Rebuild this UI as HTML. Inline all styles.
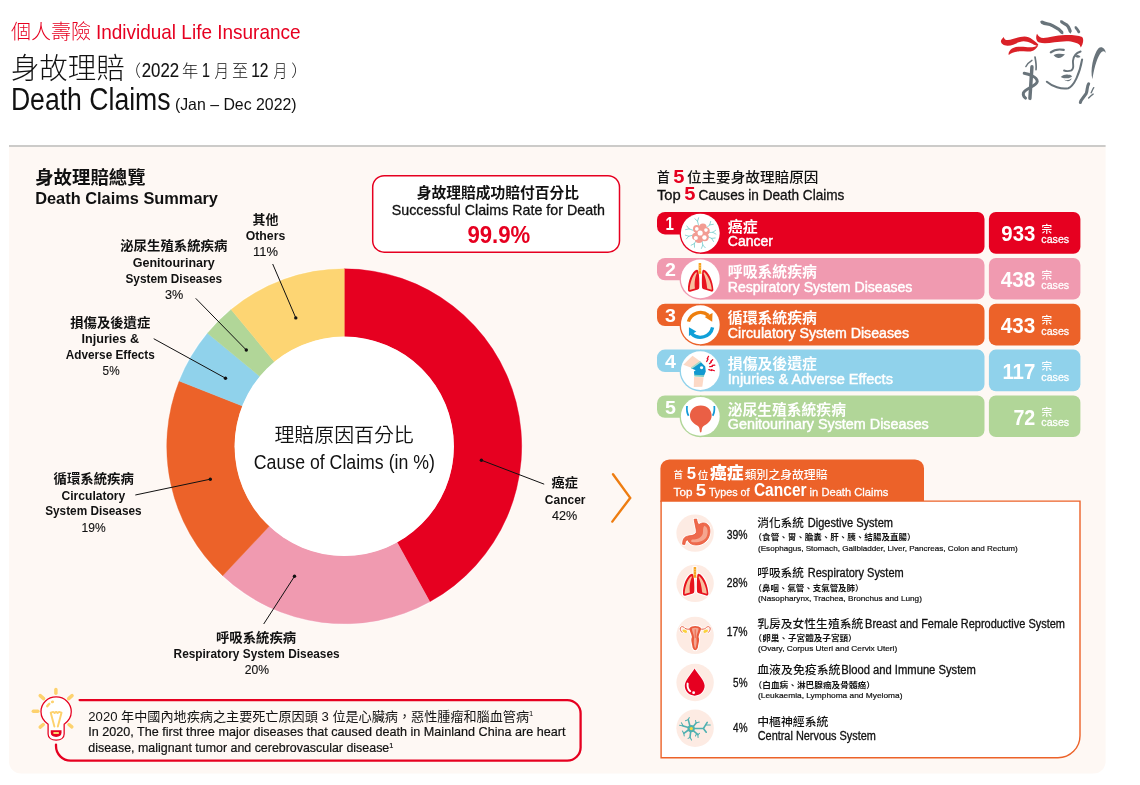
<!DOCTYPE html>
<html lang="zh-Hant">
<head>
<meta charset="utf-8">
<title>身故理賠 Death Claims</title>
<style>
html,body{margin:0;padding:0;background:#fff;}
body{width:1140px;height:785px;overflow:hidden;position:relative;font-family:"Liberation Sans","Noto Sans CJK TC",sans-serif;}
svg{position:absolute;left:0;top:0;display:block;}
svg text{font-family:"Liberation Sans","Noto Sans CJK TC",sans-serif;fill:#111;}
.b{font-weight:700;}
.l{font-weight:300;}
.md{font-weight:500;}
.m{text-anchor:middle;}
.e{text-anchor:end;}
.w{fill:#fff;}
.sb{stroke:#fff;stroke-width:.45px;}
.sb2{stroke:#fff;stroke-width:.28px;}
.sk{stroke:#111;stroke-width:.3px;}
.sk2{stroke:#111;stroke-width:.2px;}
.sk1{stroke:#111;stroke-width:.12px;}
.ld{stroke:#111;stroke-width:1;fill:none;}
</style>
</head>
<body>
<svg width="1140" height="785" viewBox="0 0 1140 785">
<g id="header">
<text x="10.9" y="38.8" textLength="80.2" lengthAdjust="spacingAndGlyphs" class="l" style="font-size:20.4px;fill:#e60020">個人壽險</text>
<text x="95.9" y="38.7" textLength="204.7" lengthAdjust="spacingAndGlyphs" style="font-size:21px;fill:#e60020">Individual Life Insurance</text>
<text x="10.9" y="79.0" textLength="113.7" lengthAdjust="spacingAndGlyphs" class="l" style="font-size:29px;">身故理賠</text>
<text x="124.5" y="77" class="l" style="font-size:16.5px">（</text>
<text x="141.7" y="76.8" textLength="37.4" lengthAdjust="spacingAndGlyphs" class="sk1" style="font-size:20px;">2022</text>
<text x="181.9" y="77.2" textLength="16.2" lengthAdjust="spacingAndGlyphs" class="l" style="font-size:16.6px;">年</text>
<text x="202.0" y="76.8" textLength="7.9" lengthAdjust="spacingAndGlyphs" class="sk1" style="font-size:20px;">1</text>
<text x="214.4" y="77.2" textLength="14.5" lengthAdjust="spacingAndGlyphs" class="l" style="font-size:16.6px;">月</text>
<text x="231.9" y="77.2" textLength="16.2" lengthAdjust="spacingAndGlyphs" class="l" style="font-size:16.6px;">至</text>
<text x="251.2" y="76.8" textLength="17.3" lengthAdjust="spacingAndGlyphs" class="sk1" style="font-size:20px;">12</text>
<text x="273.6" y="77.2" textLength="13.7" lengthAdjust="spacingAndGlyphs" class="l" style="font-size:16.6px;">月</text>
<text x="291.2" y="77" class="l" style="font-size:16.5px">）</text>
<text x="10.9" y="110.2" textLength="159.7" lengthAdjust="spacingAndGlyphs" style="font-size:31px;">Death Claims</text>
<text x="174.9" y="109.6" textLength="121.7" lengthAdjust="spacingAndGlyphs" style="font-size:16.5px;">(Jan – Dec 2022)</text>
</g>
<g id="logo" transform="translate(995 10) scale(0.12739)"><path fill="#da2128" d="M330,186 C320,205 318,244 348,256 C400,270 470,250 560,246 C610,246 648,260 666,276 L674,294 L686,270 C696,245 694,220 684,212 C650,200 600,195 550,197 C480,200 420,220 380,220 C355,220 340,206 330,186Z"/><path fill="#da2128" d="M68,211 C72,228 82,237 100,236 C140,234 180,208 232,208 C274,208 312,243 340,270 L330,283 C300,272 262,246 225,246 C185,246 150,278 100,280 C68,281 48,264 46,245 C48,231 60,220 68,211Z"/><path fill="#da2128" d="M340,272 C320,293 280,296 240,291 C200,285 148,286 122,312 C108,328 104,344 108,354 C125,338 150,327 185,325 C225,323 272,334 302,317 C322,304 337,287 340,272Z"/><g fill="none" stroke="#69747b" stroke-linecap="round" stroke-linejoin="round"><path stroke-width="26" d="M370,96 C400,115 420,102 450,122 C475,142 495,137 524,174"/><path stroke-width="10" d="M362,90 C372,100 380,104 395,108 M505,150 C515,160 525,172 532,186"/><path stroke-width="25" d="M524,94 C542,112 560,104 575,132 C583,148 588,158 590,166"/><path stroke-width="9" d="M516,86 C522,94 530,100 538,104 M588,160 C591,168 592,174 593,180"/><path stroke-width="22" d="M636,140 C645,150 653,160 658,172"/><path stroke-width="9" d="M630,132 C634,138 638,142 642,146"/><path stroke-width="17" d="M438,332 C462,313 505,307 540,313"/><path stroke-width="15" d="M672,326 C640,336 615,365 612,400 C610,430 625,458 600,474 C580,482 556,480 542,475"/><path stroke-width="16" d="M407,563 C450,600 520,625 575,614 C620,598 665,500 684,388"/><path stroke-width="27" d="M290,446 L274,694"/><path stroke-width="23" d="M229,497 C262,502 328,522 332,560 C328,598 242,610 223,650 C217,676 233,686 240,692"/><path stroke-width="13" d="M314,369 C320,400 326,440 322,468"/><path stroke-width="11" d="M242,444 C255,422 275,404 290,395"/><path stroke-width="24" d="M735,580 C720,602 727,630 716,655 C702,680 674,700 670,726"/><path stroke-width="11" d="M775,610 C765,625 760,640 755,650"/><path stroke-width="11" d="M770,660 C755,670 745,680 735,690"/></g><g fill="#69747b"><path d="M460,355 C480,340 520,340 549,347 C534,368 512,380 495,377 C480,374 468,364 460,355Z"/><path d="M626,361 C645,346 663,352 671,368 C655,376 640,378 626,361Z"/><path d="M516,525 C540,507 560,502 575,509 C585,505 597,509 606,520 C590,533 575,538 560,535 C545,538 530,533 516,525Z"/><path d="M541,546 C560,556 585,551 602,536 C596,558 570,570 541,546Z"/><path d="M870,338 C866,298 833,280 811,302 C774,348 744,470 765,544 C774,480 794,392 824,346 C838,320 856,314 870,338Z"/></g></g>
<rect x="9" y="145" width="1096.6" height="2.1" fill="#cccbc9"/>
<path d="M9 147H1105.6V761.5a12 12 0 0 1-12 12H21a12 12 0 0 1-12-12Z" fill="#fef8f4"/>
<g id="summary">
<text x="35.2" y="183.6" textLength="110.4" lengthAdjust="spacingAndGlyphs" class="b" style="font-size:17.8px;">身故理賠總覽</text>
<text x="35.2" y="204.2" textLength="182.8" lengthAdjust="spacingAndGlyphs" class="b" style="font-size:17.3px;">Death Claims Summary</text>
</g>
<g id="donut">
<circle cx="344.25" cy="446.3" r="178.4" fill="#fff"/>
<path fill="#e60020" stroke="#e60020" stroke-width=".4" d="M344.2 268.8A177.5 177.5 0 0 1 429.8 601.8L397.0 542.2A109.4 109.4 0 0 0 344.2 336.9Z"/>
<path fill="#f09ab0" stroke="#f09ab0" stroke-width=".4" d="M429.8 601.8A177.5 177.5 0 0 1 222.7 575.7L269.4 526.0A109.4 109.4 0 0 0 397.0 542.2Z"/>
<path fill="#ec6229" stroke="#ec6229" stroke-width=".4" d="M222.7 575.7A177.5 177.5 0 0 1 179.2 381.0L242.5 406.0A109.4 109.4 0 0 0 269.4 526.0Z"/>
<path fill="#90d2eb" stroke="#90d2eb" stroke-width=".4" d="M179.2 381.0A177.5 177.5 0 0 1 207.5 333.2L260.0 376.6A109.4 109.4 0 0 0 242.5 406.0Z"/>
<path fill="#b1d698" stroke="#b1d698" stroke-width=".4" d="M207.5 333.2A177.5 177.5 0 0 1 231.1 309.5L274.5 362.0A109.4 109.4 0 0 0 260.0 376.6Z"/>
<path fill="#fdd573" stroke="#fdd573" stroke-width=".4" d="M231.1 309.5A177.5 177.5 0 0 1 344.3 268.8L344.3 336.9A109.4 109.4 0 0 0 274.5 362.0Z"/>
<circle cx="344.25" cy="446.3" r="109.7" fill="#fff"/>
<text x="274.4" y="442.0" textLength="139.4" lengthAdjust="spacingAndGlyphs" style="font-size:19px;font-weight:350">理賠原因百分比</text>
<text x="253.8" y="469.0" textLength="181.1" lengthAdjust="spacingAndGlyphs" style="font-size:19.3px;">Cause of Claims (in %)</text>
</g>
<g id="labels">
<path class="ld" d="M272.7 264L295.8 317.9"/><circle cx="295.8" cy="317.9" r="1.7" fill="#111"/>
<path class="ld" d="M195.7 298.3L246.3 350"/><circle cx="246.3" cy="350" r="1.7" fill="#111"/>
<path class="ld" d="M153.7 338.7L225.5 378.2"/><circle cx="225.5" cy="378.2" r="1.7" fill="#111"/>
<path class="ld" d="M135.3 495L210.3 479.2"/><circle cx="210.3" cy="479.2" r="1.7" fill="#111"/>
<path class="ld" d="M263.7 624L294.5 576.3"/><circle cx="294.5" cy="576.3" r="1.7" fill="#111"/>
<path class="ld" d="M544.2 484.2L481.4 460.2"/><circle cx="481.4" cy="460.2" r="1.7" fill="#111"/>
<text x="252.6" y="223.6" textLength="25.9" lengthAdjust="spacingAndGlyphs" class="b" style="font-size:13.0px;">其他</text>
<text x="245.7" y="240.3" textLength="39.6" lengthAdjust="spacingAndGlyphs" class="b" style="font-size:12.6px;">Others</text>
<text x="253.1" y="256.0" textLength="24.9" lengthAdjust="spacingAndGlyphs" class="sk1" style="font-size:12.6px;">11%</text>
<text x="120.2" y="250.4" textLength="107.2" lengthAdjust="spacingAndGlyphs" class="b" style="font-size:13.0px;">泌尿生殖系統疾病</text>
<text x="132.8" y="267.1" textLength="82.0" lengthAdjust="spacingAndGlyphs" class="b" style="font-size:12.6px;">Genitourinary</text>
<text x="125.4" y="283.2" textLength="96.8" lengthAdjust="spacingAndGlyphs" class="b" style="font-size:12.6px;">System Diseases</text>
<text x="164.9" y="298.7" textLength="18.3" lengthAdjust="spacingAndGlyphs" class="sk1" style="font-size:12.6px;">3%</text>
<text x="70.2" y="326.7" textLength="80.1" lengthAdjust="spacingAndGlyphs" class="b" style="font-size:13.0px;">損傷及後遺症</text>
<text x="81.5" y="343.4" textLength="57.5" lengthAdjust="spacingAndGlyphs" class="b" style="font-size:12.6px;">Injuries &amp;</text>
<text x="65.7" y="359.2" textLength="89.1" lengthAdjust="spacingAndGlyphs" class="b" style="font-size:12.6px;">Adverse Effects</text>
<text x="102.6" y="375.0" textLength="17.0" lengthAdjust="spacingAndGlyphs" class="sk1" style="font-size:12.6px;">5%</text>
<text x="53.6" y="483.3" textLength="80.2" lengthAdjust="spacingAndGlyphs" class="b" style="font-size:13.0px;">循環系統疾病</text>
<text x="61.5" y="499.5" textLength="63.8" lengthAdjust="spacingAndGlyphs" class="b" style="font-size:12.6px;">Circulatory</text>
<text x="45.2" y="515.3" textLength="96.4" lengthAdjust="spacingAndGlyphs" class="b" style="font-size:12.6px;">System Diseases</text>
<text x="81.5" y="531.6" textLength="24.1" lengthAdjust="spacingAndGlyphs" class="sk1" style="font-size:12.6px;">19%</text>
<text x="216.0" y="641.7" textLength="80.1" lengthAdjust="spacingAndGlyphs" class="b" style="font-size:13.0px;">呼吸系統疾病</text>
<text x="173.6" y="657.9" textLength="166.0" lengthAdjust="spacingAndGlyphs" class="b" style="font-size:12.6px;">Respiratory System Diseases</text>
<text x="244.7" y="673.7" textLength="24.3" lengthAdjust="spacingAndGlyphs" class="sk1" style="font-size:12.6px;">20%</text>
<text x="551.5" y="487.1" textLength="26.3" lengthAdjust="spacingAndGlyphs" class="b" style="font-size:13.0px;">癌症</text>
<text x="544.8" y="504.0" textLength="40.7" lengthAdjust="spacingAndGlyphs" class="b" style="font-size:12.6px;">Cancer</text>
<text x="552.0" y="519.8" textLength="25.3" lengthAdjust="spacingAndGlyphs" class="sk1" style="font-size:12.6px;">42%</text>
</g>
<g id="success">
<rect x="372.7" y="175.7" width="246.8" height="76.5" rx="11.5" fill="#fff" stroke="#e60020" stroke-width="1.5"/>
<text x="416.7" y="198.0" textLength="162.3" lengthAdjust="spacingAndGlyphs" class="b" style="font-size:14.3px;">身故理賠成功賠付百分比</text>
<text x="391.8" y="215.2" textLength="213.2" lengthAdjust="spacingAndGlyphs" class="sk" style="font-size:14.2px;">Successful Claims Rate for Death</text>
<text x="467.4" y="243.0" textLength="62.8" lengthAdjust="spacingAndGlyphs" class="b" style="font-size:24.5px;fill:#e60020">99.9%</text>
</g>
<g id="note">
<path d="M79.6 700.1H567.3a13.3 13.3 0 0 1 13.3 13.3V747.4a13.3 13.3 0 0 1-13.3 13.3H70.6a14.6 14.6 0 0 1-14.6-14.6V744.6" fill="none" stroke="#e60020" stroke-width="2.3" stroke-linecap="round"/>
<g transform="translate(20 680) scale(0.11468)"><g stroke="#fdd26e" stroke-width="30" stroke-linecap="round"><path d="M313,82L313,116"/><path d="M176,136L206,162"/><path d="M454,136L424,162"/><path d="M116,272L156,272"/><path d="M176,411L203,388"/><path d="M427,388L452,409"/></g><path d="M315,148 C390,148 447,205 447,277 C447,325 422,360 385,385 L385,470 C385,505 355,524 315,524 C275,524 245,505 245,470 L245,385 C208,360 183,325 183,277 C183,205 240,148 315,148Z" fill="#fff" stroke="#e60020" stroke-width="11"/><path d="M238,228 C250,208 268,196 286,190" fill="none" stroke="#fdd26e" stroke-width="22" stroke-linecap="round" stroke-dasharray="26 30"/><path d="M268,285 L300,405 M362,285 L330,405 M268,285 L290,278 L302,288 L315,278 L328,288 L340,278 L362,285" fill="none" stroke="#fdd26e" stroke-width="17" stroke-linecap="round" stroke-linejoin="round"/><path d="M268,438 L362,438 L362,458 C362,484 345,496 315,496 C285,496 268,484 268,458Z" fill="#e60020"/><rect x="290" y="454" width="50" height="16" rx="6" fill="#fdd26e"/></g>
<text x="88.3" y="720.6" textLength="445" lengthAdjust="spacingAndGlyphs" style="font-size:13px">2020 年中國內地疾病之主要死亡原因頭 3 位是心臟病，惡性腫瘤和腦血管病<tspan dy="-4.5" style="font-size:7.5px">1</tspan></text>
<text x="88.2" y="736.2" textLength="477.3" lengthAdjust="spacingAndGlyphs" class="sk2" style="font-size:12.8px;">In 2020, The first three major diseases that caused death in Mainland China are heart</text>
<text x="88.3" y="752" textLength="305" lengthAdjust="spacingAndGlyphs" class="sk2" style="font-size:12.8px">disease, malignant tumor and cerebrovascular disease<tspan dy="-4.5" style="font-size:7.5px">1</tspan></text>
</g>
<g id="top5">
<text x="656.9" y="182.2" textLength="12.8" lengthAdjust="spacingAndGlyphs" class="md" style="font-size:13.4px;">首</text>
<text x="673.3" y="182.6" textLength="11.2" lengthAdjust="spacingAndGlyphs" class="b" style="font-size:18.6px;fill:#e60020">5</text>
<text x="686.9" y="182.2" textLength="131.5" lengthAdjust="spacingAndGlyphs" class="md" style="font-size:13.4px;">位主要身故理賠原因</text>
<text x="656.9" y="200.2" textLength="23.8" lengthAdjust="spacingAndGlyphs" class="sk" style="font-size:14.2px;">Top</text>
<text x="684.3" y="200.3" textLength="11.2" lengthAdjust="spacingAndGlyphs" class="b" style="font-size:18.6px;fill:#e60020">5</text>
<text x="698.4" y="200.2" textLength="146.0" lengthAdjust="spacingAndGlyphs" class="sk" style="font-size:14.2px;">Causes in Death Claims</text>
<g id="row1">
<rect x="657" y="212.0" width="50" height="22.4" rx="8" fill="#e60020"/>
<path d="M700 212.0H977.5a7 7 0 0 1 7 7V246.7a7 7 0 0 1-7 7H700Z" fill="#e60020"/>
<circle cx="700.3" cy="233.05" r="20.75" fill="#e60020"/>
<circle cx="700.3" cy="233.05" r="19.4" fill="#fff"/>
<g transform="translate(700.46 233.05) scale(0.06116) translate(-400 -393)"><g transform="translate(402 393) rotate(-104.5)" stroke="#7fd0d0" stroke-width="13" stroke-linecap="round" fill="none"><path d="M130 0H200M200 0L250 -32M200 0L250 32"/></g><g transform="translate(402 393) rotate(-41.8)" stroke="#7fd0d0" stroke-width="13" stroke-linecap="round" fill="none"><path d="M130 0H200M200 0L250 -32M200 0L250 32"/></g><g transform="translate(402 393) rotate(-3.4)" stroke="#7fd0d0" stroke-width="13" stroke-linecap="round" fill="none"><path d="M130 0H200M200 0L250 -32M200 0L250 32"/></g><g transform="translate(402 393) rotate(25.9)" stroke="#7fd0d0" stroke-width="13" stroke-linecap="round" fill="none"><path d="M130 0H200M200 0L250 -32M200 0L250 32"/></g><g transform="translate(402 393) rotate(79.6)" stroke="#7fd0d0" stroke-width="13" stroke-linecap="round" fill="none"><path d="M130 0H200M200 0L250 -32M200 0L250 32"/></g><g transform="translate(402 393) rotate(120.5)" stroke="#7fd0d0" stroke-width="13" stroke-linecap="round" fill="none"><path d="M130 0H200M200 0L250 -32M200 0L250 32"/></g><g transform="translate(402 393) rotate(164.8)" stroke="#7fd0d0" stroke-width="13" stroke-linecap="round" fill="none"><path d="M130 0H200M200 0L250 -32M200 0L250 32"/></g><g transform="translate(402 393) rotate(-160)" stroke="#7fd0d0" stroke-width="13" stroke-linecap="round" fill="none"><path d="M130 0H200M200 0L250 -32M200 0L250 32"/></g><circle cx="340" cy="325" r="62" fill="#f29c93"/><circle cx="440" cy="300" r="62" fill="#f29c93"/><circle cx="490" cy="360" r="62" fill="#f29c93"/><circle cx="470" cy="460" r="66" fill="#f29c93"/><circle cx="375" cy="490" r="66" fill="#f29c93"/><circle cx="325" cy="450" r="62" fill="#f29c93"/><circle cx="400" cy="395" r="90" fill="#f29c93"/><circle cx="340" cy="325" r="30" fill="#fff"/><circle cx="490" cy="345" r="30" fill="#fff"/><circle cx="395" cy="392" r="42" fill="#fff"/><circle cx="325" cy="475" r="33" fill="#fff"/><circle cx="465" cy="465" r="36" fill="#fff"/></g>
<text x="665.5" y="230.1" textLength="8.4" lengthAdjust="spacingAndGlyphs" class="w b" style="font-size:17.5px;">1</text>
<text x="727.8" y="231.5" textLength="29.8" lengthAdjust="spacingAndGlyphs" class="w b" style="font-size:14.3px;">癌症</text>
<text x="727.8" y="245.9" textLength="45.2" lengthAdjust="spacingAndGlyphs" class="w sb" style="font-size:14px;">Cancer</text>
<rect x="988.9" y="212.0" width="91.5" height="41.7" rx="7" fill="#e60020"/>
<text x="1001.3" y="241.1" textLength="34.0" lengthAdjust="spacingAndGlyphs" class="w b" style="font-size:21.6px;">933</text>
<text x="1041.5" y="232.6" class="w md" style="font-size:10.6px">宗</text>
<text x="1041.3" y="243.0" textLength="27.9" lengthAdjust="spacingAndGlyphs" class="w sb2" style="font-size:11.6px;">cases</text>
</g>
<g id="row2">
<rect x="657" y="257.9" width="50" height="22.4" rx="8" fill="#f09ab0"/>
<path d="M700 257.9H977.5a7 7 0 0 1 7 7V292.6a7 7 0 0 1-7 7H700Z" fill="#f09ab0"/>
<circle cx="700.3" cy="278.95" r="20.75" fill="#f09ab0"/>
<circle cx="700.3" cy="278.95" r="19.4" fill="#fff"/>
<g transform="translate(700.46 279.15) scale(0.06116) translate(-400 -395)"><path d="M340,242 C262,262 192,430 196,572 Q196,607 232,600 L358,563 Q381,556 381,528 C385,440 379,330 367,268 Q359,235 340,242Z" fill="#e8141f"/><path d="M452,242 C532,262 606,430 611,570 Q613,605 578,598 L444,557 Q425,551 425,525 C421,440 423,330 429,268 Q435,235 452,242Z" fill="#e8141f"/><path d="M333,280 C270,330 226,470 223,572 L310,548 C296,450 316,350 341,300Z" fill="#f8bf9e"/><path d="M459,280 C524,335 580,470 585,568 L510,546 C502,450 478,350 451,298Z" fill="#f8bf9e"/><rect x="370" y="132" width="42" height="170" rx="9" fill="#f6a21f"/><rect x="366" y="292" width="56" height="12" rx="4" fill="#f6a21f"/><rect x="374" y="165" width="34" height="9" fill="#fbcf7a"/><rect x="374" y="205" width="34" height="9" fill="#fbcf7a"/><rect x="374" y="245" width="34" height="9" fill="#fbcf7a"/></g>
<text x="665.0" y="276.0" textLength="10.9" lengthAdjust="spacingAndGlyphs" class="w b" style="font-size:17.5px;">2</text>
<text x="727.8" y="277.4" textLength="89.1" lengthAdjust="spacingAndGlyphs" class="w b" style="font-size:14.3px;">呼吸系統疾病</text>
<text x="727.8" y="291.8" textLength="184.6" lengthAdjust="spacingAndGlyphs" class="w sb" style="font-size:14px;">Respiratory System Diseases</text>
<rect x="988.9" y="257.9" width="91.5" height="41.7" rx="7" fill="#f09ab0"/>
<text x="1000.8" y="287.0" textLength="34.5" lengthAdjust="spacingAndGlyphs" class="w b" style="font-size:21.6px;">438</text>
<text x="1041.5" y="278.5" class="w md" style="font-size:10.6px">宗</text>
<text x="1041.3" y="288.9" textLength="27.9" lengthAdjust="spacingAndGlyphs" class="w sb2" style="font-size:11.6px;">cases</text>
</g>
<g id="row3">
<rect x="657" y="303.7" width="50" height="22.4" rx="8" fill="#ec6229"/>
<path d="M700 303.7H977.5a7 7 0 0 1 7 7V338.4a7 7 0 0 1-7 7H700Z" fill="#ec6229"/>
<circle cx="700.3" cy="324.75" r="20.75" fill="#ec6229"/>
<circle cx="700.3" cy="324.75" r="19.4" fill="#fff"/>
<g transform="translate(700.46 324.85) scale(0.06116) translate(-400 -390)"><path d="M204 338A203 203 0 0 1 530 235" fill="none" stroke="#ee7f0e" stroke-width="55"/><path d="M470,262 L597,198 L592,338Z" fill="#ee7f0e"/><path d="M598 432A203 203 0 0 1 254 531" fill="none" stroke="#10a0d8" stroke-width="55"/><path d="M212,428 L332,500 L212,572Z" fill="#10a0d8"/></g>
<text x="665.0" y="321.8" textLength="10.9" lengthAdjust="spacingAndGlyphs" class="w b" style="font-size:17.5px;">3</text>
<text x="727.8" y="323.2" textLength="89.1" lengthAdjust="spacingAndGlyphs" class="w b" style="font-size:14.3px;">循環系統疾病</text>
<text x="727.8" y="337.6" textLength="181.2" lengthAdjust="spacingAndGlyphs" class="w sb" style="font-size:14px;">Circulatory System Diseases</text>
<rect x="988.9" y="303.7" width="91.5" height="41.7" rx="7" fill="#ec6229"/>
<text x="1000.8" y="332.8" textLength="34.5" lengthAdjust="spacingAndGlyphs" class="w b" style="font-size:21.6px;">433</text>
<text x="1041.5" y="324.3" class="w md" style="font-size:10.6px">宗</text>
<text x="1041.3" y="334.7" textLength="27.9" lengthAdjust="spacingAndGlyphs" class="w sb2" style="font-size:11.6px;">cases</text>
</g>
<g id="row4">
<rect x="657" y="349.6" width="50" height="22.4" rx="8" fill="#90d2eb"/>
<path d="M700 349.6H977.5a7 7 0 0 1 7 7V384.3a7 7 0 0 1-7 7H700Z" fill="#90d2eb"/>
<circle cx="700.3" cy="370.65" r="20.75" fill="#90d2eb"/>
<circle cx="700.3" cy="370.65" r="19.4" fill="#fff"/>
<g transform="translate(700.46 370.54999999999995) scale(0.06116) translate(-400 -385)"><path d="M270,145L400,235L250,340L120,290Z" fill="#fcd9c6"/><path d="M295,490L452,495L430,650L290,655Z" fill="#fcd9c6"/><path d="M405,245L478,318L487,400L458,468L300,462L293,402L322,382L283,362L250,346Z" fill="#1199d0"/><path d="M243,340L395,230L412,250L258,358Z" fill="#84cfc0"/><path d="M250,349L404,240" stroke="#fff" stroke-width="5"/><path d="M298,455L458,462L456,490L300,484Z" fill="#84cfc0"/><ellipse cx="418" cy="340" rx="26" ry="24" fill="#fff"/><path d="M532,152L510,193L524,197L502,238" fill="none" stroke="#e60020" stroke-width="20" stroke-linecap="round" stroke-linejoin="round"/><path d="M600,208L568,236L579,245L547,273" fill="none" stroke="#e60020" stroke-width="20" stroke-linecap="round" stroke-linejoin="round"/><path d="M634,298L591,302L595,316L552,320" fill="none" stroke="#e60020" stroke-width="20" stroke-linecap="round" stroke-linejoin="round"/><path d="M628,388L584,372L581,385L537,369" fill="none" stroke="#e60020" stroke-width="20" stroke-linecap="round" stroke-linejoin="round"/></g>
<text x="665.0" y="367.7" textLength="10.9" lengthAdjust="spacingAndGlyphs" class="w b" style="font-size:17.5px;">4</text>
<text x="727.8" y="369.1" textLength="89.1" lengthAdjust="spacingAndGlyphs" class="w b" style="font-size:14.3px;">損傷及後遺症</text>
<text x="727.8" y="383.5" textLength="165.1" lengthAdjust="spacingAndGlyphs" class="w sb" style="font-size:14px;">Injuries &amp; Adverse Effects</text>
<rect x="988.9" y="349.6" width="91.5" height="41.7" rx="7" fill="#90d2eb"/>
<text x="1002.4" y="378.7" textLength="32.9" lengthAdjust="spacingAndGlyphs" class="w b" style="font-size:21.6px;">117</text>
<text x="1041.5" y="370.2" class="w md" style="font-size:10.6px">宗</text>
<text x="1041.3" y="380.6" textLength="27.9" lengthAdjust="spacingAndGlyphs" class="w sb2" style="font-size:11.6px;">cases</text>
</g>
<g id="row5">
<rect x="657" y="395.4" width="50" height="22.4" rx="8" fill="#b1d698"/>
<path d="M700 395.4H977.5a7 7 0 0 1 7 7V430.1a7 7 0 0 1-7 7H700Z" fill="#b1d698"/>
<circle cx="700.3" cy="416.45" r="20.75" fill="#b1d698"/>
<circle cx="700.3" cy="416.45" r="19.4" fill="#fff"/>
<g transform="translate(700.46 416.55) scale(0.06116) translate(-400 -385)"><path d="M405,203 C515,203 583,280 583,370 C583,460 500,508 452,540 C425,558 422,590 418,630 Q404,660 390,630 C386,590 384,558 358,540 C310,508 228,460 228,370 C228,280 295,203 405,203Z" fill="#ea5f45"/><path d="M180,213 C172,290 182,335 206,372" fill="none" stroke="#1199d8" stroke-width="28"/><path d="M626,213 C634,290 622,335 600,372" fill="none" stroke="#1199d8" stroke-width="28"/></g>
<text x="665.0" y="413.5" textLength="10.9" lengthAdjust="spacingAndGlyphs" class="w b" style="font-size:17.5px;">5</text>
<text x="727.8" y="414.9" textLength="118.1" lengthAdjust="spacingAndGlyphs" class="w b" style="font-size:14.3px;">泌尿生殖系統疾病</text>
<text x="727.8" y="429.3" textLength="201.0" lengthAdjust="spacingAndGlyphs" class="w sb" style="font-size:14px;">Genitourinary System Diseases</text>
<rect x="988.9" y="395.4" width="91.5" height="41.7" rx="7" fill="#b1d698"/>
<text x="1013.4" y="424.5" textLength="21.9" lengthAdjust="spacingAndGlyphs" class="w b" style="font-size:21.6px;">72</text>
<text x="1041.5" y="416.0" class="w md" style="font-size:10.6px">宗</text>
<text x="1041.3" y="426.4" textLength="27.9" lengthAdjust="spacingAndGlyphs" class="w sb2" style="font-size:11.6px;">cases</text>
</g>
</g>
<path d="M613 474.2L630.2 497.9L612.3 521.6" fill="none" stroke="#ee7d11" stroke-width="2.4" stroke-linecap="round" stroke-linejoin="miter"/>
<g id="cancer">
<path d="M660.4 502V468.4a9 9 0 0 1 9-9H915a9 9 0 0 1 9 9V502Z" fill="#ec6229"/>
<path d="M661.1 501.1H1080V735.7a22 22 0 0 1-22 22H661.1Z" fill="#fff" stroke="#ec6229" stroke-width="1.4"/>
<text x="673.6" y="478.3" textLength="9.5" lengthAdjust="spacingAndGlyphs" class="w md" style="font-size:9.6px;">首</text>
<text x="686.8" y="478.5" textLength="9.3" lengthAdjust="spacingAndGlyphs" class="w b" style="font-size:16px;">5</text>
<text x="697.4" y="478.5" textLength="11.0" lengthAdjust="spacingAndGlyphs" class="w md" style="font-size:10.6px;">位</text>
<text x="710.1" y="479.0" textLength="33.5" lengthAdjust="spacingAndGlyphs" class="w" style="font-size:17.2px;font-weight:900">癌症</text>
<text x="744.8" y="478.6" textLength="82.7" lengthAdjust="spacingAndGlyphs" class="w md" style="font-size:11.3px;">類別之身故理賠</text>
<text x="673.6" y="495.7" textLength="18.8" lengthAdjust="spacingAndGlyphs" class="w sb2" style="font-size:11.4px;">Top</text>
<text x="695.7" y="495.7" textLength="10.3" lengthAdjust="spacingAndGlyphs" class="w b" style="font-size:16px;">5</text>
<text x="708.9" y="495.7" textLength="40.7" lengthAdjust="spacingAndGlyphs" class="w sb2" style="font-size:11.4px;">Types of</text>
<text x="753.9" y="495.7" textLength="52.7" lengthAdjust="spacingAndGlyphs" class="w b" style="font-size:18px;">Cancer</text>
<text x="809.6" y="495.7" textLength="78.8" lengthAdjust="spacingAndGlyphs" class="w sb2" style="font-size:11.4px;">in Death Claims</text>
<g id="c1">
<circle cx="695.1" cy="533.1" r="18.7" fill="#fdebe3"/>
<g transform="translate(695.1 533.1) scale(0.06116) translate(-394 -394)"><path d="M378,168 L420,165 C424,205 436,238 458,255 C500,218 572,215 612,270 C652,330 642,432 592,502 C540,572 440,602 360,582 C312,568 286,542 272,502 C246,502 234,540 226,582 L190,577 C190,515 205,456 270,444 C330,434 398,432 414,382 C420,340 392,260 378,168Z" fill="#fff" stroke="#fff" stroke-width="40" stroke-linejoin="round"/><path d="M378,168 L420,165 C424,205 436,238 458,255 C500,218 572,215 612,270 C652,330 642,432 592,502 C540,572 440,602 360,582 C312,568 286,542 272,502 C246,502 234,540 226,582 L190,577 C190,515 205,456 270,444 C330,434 398,432 414,382 C420,340 392,260 378,168Z" fill="#ee6a4d" stroke="#e8502f" stroke-width="12" stroke-linejoin="round"/><path d="M545,275 C600,295 618,380 580,458 C540,528 430,558 335,540 C322,520 332,505 352,500 C430,500 500,470 520,400 C530,350 515,312 545,275Z" fill="#f5a58f"/></g>
<text x="726.7" y="539.3" textLength="20.8" lengthAdjust="spacingAndGlyphs" class="sk" style="font-size:12.2px;">39%</text>
<text x="757.2" y="527.1" textLength="46.8" lengthAdjust="spacingAndGlyphs" class="md" style="font-size:11.8px;">消化系統</text>
<text x="807.8" y="527.1" textLength="85.2" lengthAdjust="spacingAndGlyphs" class="sk" style="font-size:12.0px;">Digestive System</text>
<text x="753.6" y="540.4" textLength="161.9" lengthAdjust="spacingAndGlyphs" class="b" style="font-size:8.2px;">（食管、胃、膽囊、肝、胰、結腸及直腸）</text>
<text x="758.0" y="550.6" textLength="259.6" lengthAdjust="spacingAndGlyphs" class="sk2" style="font-size:8.1px;">(Esophagus, Stomach, Gallbladder, Liver, Pancreas, Colon and Rectum)</text>
</g>
<g id="c2">
<circle cx="695.1" cy="583.4" r="18.7" fill="#fdebe3"/>
<g transform="translate(695.1 583.4599999999999) scale(0.06116) translate(-394 -400)"><g stroke="#fff" stroke-width="36" stroke-linejoin="round" fill="#fff"><path d="M340,242 C262,262 192,430 196,572 Q196,607 232,600 L358,563 Q381,556 381,528 C385,440 379,330 367,268 Q359,235 340,242Z"/><path d="M452,242 C532,262 606,430 611,570 Q613,605 578,598 L444,557 Q425,551 425,525 C421,440 423,330 429,268 Q435,235 452,242Z"/><rect x="368" y="135" width="46" height="165"/></g><path d="M340,242 C262,262 192,430 196,572 Q196,607 232,600 L358,563 Q381,556 381,528 C385,440 379,330 367,268 Q359,235 340,242Z" fill="#e8141f"/><path d="M452,242 C532,262 606,430 611,570 Q613,605 578,598 L444,557 Q425,551 425,525 C421,440 423,330 429,268 Q435,235 452,242Z" fill="#e8141f"/><path d="M333,280 C270,330 226,470 223,572 L310,548 C296,450 316,350 341,300Z" fill="#f8bf9e"/><path d="M459,280 C524,335 580,470 585,568 L510,546 C502,450 478,350 451,298Z" fill="#f8bf9e"/><rect x="370" y="132" width="42" height="170" rx="9" fill="#f6a21f"/><rect x="366" y="292" width="56" height="12" rx="4" fill="#f6a21f"/><rect x="374" y="165" width="34" height="9" fill="#fbcf7a"/><rect x="374" y="205" width="34" height="9" fill="#fbcf7a"/><rect x="374" y="245" width="34" height="9" fill="#fbcf7a"/></g>
<text x="726.7" y="587.4" textLength="20.8" lengthAdjust="spacingAndGlyphs" class="sk" style="font-size:12.2px;">28%</text>
<text x="757.2" y="577.3" textLength="46.8" lengthAdjust="spacingAndGlyphs" class="md" style="font-size:11.8px;">呼吸系統</text>
<text x="807.8" y="577.3" textLength="95.9" lengthAdjust="spacingAndGlyphs" class="sk" style="font-size:12.0px;">Respiratory System</text>
<text x="753.6" y="590.5" textLength="109.9" lengthAdjust="spacingAndGlyphs" class="b" style="font-size:8.2px;">（鼻咽、氣管、支氣管及肺）</text>
<text x="758.0" y="600.5" textLength="163.9" lengthAdjust="spacingAndGlyphs" class="sk2" style="font-size:8.1px;">(Nasopharynx, Trachea, Bronchus and Lung)</text>
</g>
<g id="c3">
<circle cx="695.1" cy="635.4" r="18.7" fill="#fdebe3"/>
<g transform="translate(695.1 635.4599999999999) scale(0.06116) translate(-394 -400)"><g stroke="#fff" stroke-width="40" fill="none" stroke-linecap="round"><path d="M315,295 C280,300 250,300 225,280 C195,245 160,250 152,280 C148,310 165,335 180,350"/><path d="M478,295 C512,300 542,300 567,280 C597,245 632,250 640,280 C644,310 627,335 612,350"/></g><path d="M303,280 C335,233 457,233 489,280 C494,330 457,370 450,425 C474,475 447,520 438,600 Q396,684 354,600 C345,520 318,475 342,425 C335,370 296,330 303,280Z" fill="#fff" stroke="#fff" stroke-width="34" stroke-linejoin="round"/><ellipse cx="225" cy="330" rx="45" ry="32" fill="#fff"/><ellipse cx="567" cy="330" rx="45" ry="32" fill="#fff"/><g stroke="#ea5a3c" stroke-width="16" fill="none" stroke-linecap="round"><path d="M315,295 C280,300 250,300 225,280 C195,245 160,250 152,280 C148,310 165,335 180,350"/><path d="M478,295 C512,300 542,300 567,280 C597,245 632,250 640,280 C644,310 627,335 612,350"/></g><ellipse cx="225" cy="330" rx="40" ry="25" fill="#fbd13f" transform="rotate(20 225 330)"/><ellipse cx="567" cy="330" rx="40" ry="25" fill="#fbd13f" transform="rotate(-20 567 330)"/><path d="M303,280 C335,233 457,233 489,280 C494,330 457,370 450,425 C474,475 447,520 438,600 Q396,684 354,600 C345,520 318,475 342,425 C335,370 296,330 303,280Z" fill="#ea5a3c"/><path d="M340,285 C370,270 420,270 452,285 C450,330 420,370 415,440 C425,500 420,560 396,620 C372,560 368,500 378,440 C372,370 342,330 340,285Z" fill="#f4a592"/><path d="M396,300 L396,440" stroke="#ea5a3c" stroke-width="14"/></g>
<text x="726.7" y="636.1" textLength="20.8" lengthAdjust="spacingAndGlyphs" class="sk" style="font-size:12.2px;">17%</text>
<text x="757.2" y="627.8" textLength="106.1" lengthAdjust="spacingAndGlyphs" class="md" style="font-size:11.8px;">乳房及女性生殖系統</text>
<text x="865.1" y="627.8" textLength="199.9" lengthAdjust="spacingAndGlyphs" class="sk" style="font-size:12.0px;">Breast and Female Reproductive System</text>
<text x="753.6" y="641.1" textLength="103.1" lengthAdjust="spacingAndGlyphs" class="b" style="font-size:8.2px;">（卵巢、子宮體及子宮頸）</text>
<text x="758.0" y="651.1" textLength="139.2" lengthAdjust="spacingAndGlyphs" class="sk2" style="font-size:8.1px;">(Ovary, Corpus Uteri and Cervix Uteri)</text>
</g>
<g id="c4">
<circle cx="695.1" cy="682.5" r="18.7" fill="#fdebe3"/>
<g transform="translate(695.1 682.5) scale(0.06116) translate(-394 -400)"><path d="M385,172 C430,250 550,370 550,455 C550,545 475,615 387,615 C300,615 225,545 225,455 C225,370 340,250 385,172Z" fill="#e60020" stroke="#fff" stroke-width="26" stroke-linejoin="round"/><path d="M385,172 C430,250 550,370 550,455 C550,545 475,615 387,615 C300,615 225,545 225,455 C225,370 340,250 385,172Z" fill="#e60020"/><path d="M272,418 C266,470 286,520 314,543" fill="none" stroke="#fff" stroke-width="32" stroke-linecap="round"/><circle cx="370" cy="566" r="23" fill="#fff"/></g>
<text x="733.1" y="686.9" textLength="14.4" lengthAdjust="spacingAndGlyphs" class="sk" style="font-size:12.2px;">5%</text>
<text x="757.2" y="673.9" textLength="83.3" lengthAdjust="spacingAndGlyphs" class="md" style="font-size:11.8px;">血液及免疫系統</text>
<text x="841.2" y="673.9" textLength="134.7" lengthAdjust="spacingAndGlyphs" class="sk" style="font-size:12.0px;">Blood and Immune System</text>
<text x="753.6" y="687.8" textLength="121.3" lengthAdjust="spacingAndGlyphs" class="b" style="font-size:8.2px;">（白血病、淋巴腺癌及骨髓癌）</text>
<text x="758.0" y="698.0" textLength="144.5" lengthAdjust="spacingAndGlyphs" class="sk2" style="font-size:8.1px;">(Leukaemia, Lymphoma and Myeloma)</text>
</g>
<g id="c5">
<circle cx="695.1" cy="728.2" r="18.7" fill="#fdebe3"/>
<g transform="translate(695.1 728.3000000000001) scale(0.06116) translate(-394 -397)"><g stroke="#4fb0b0" stroke-linecap="round" fill="none"><path stroke-width="26" d="M310,360 L282,255 M285,385 L200,360 M285,425 L210,480 M322,450 L310,545 M368,438 L440,500 M368,362 L410,310 M370,400 L530,400 M530,400 L592,300 M530,400 L576,462"/><path stroke-width="17" d="M282,255 L236,272 M282,255 L300,222 M200,360 L140,346 M200,360 L170,306 M210,480 L186,442 M210,480 L216,522 M310,545 L280,562 M310,545 L336,590 M440,500 L466,480 M440,500 L442,546 M420,482 L400,522 M410,310 L400,268 M410,310 L462,296 M566,342 L642,344"/></g><circle cx="330" cy="402" r="60" fill="#4fb0b0"/><circle cx="332" cy="402" r="27" fill="#f5d63d"/></g>
<text x="733.1" y="731.8" textLength="14.4" lengthAdjust="spacingAndGlyphs" class="sk" style="font-size:12.2px;">4%</text>
<text x="757.2" y="725.8" textLength="71.2" lengthAdjust="spacingAndGlyphs" class="md" style="font-size:11.8px;">中樞神經系統</text>
<text x="757.7" y="739.5" textLength="118.2" lengthAdjust="spacingAndGlyphs" class="sk" style="font-size:12.0px;">Central Nervous System</text>
</g>
</g>
</svg>
</body>
</html>
